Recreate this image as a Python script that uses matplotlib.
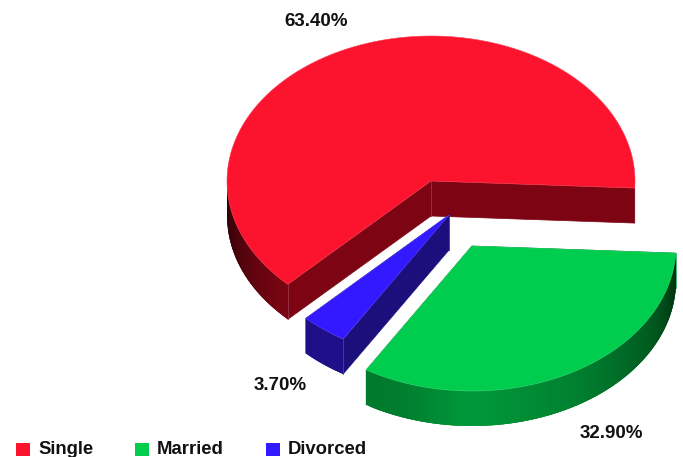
import numpy as np
import matplotlib
matplotlib.use("Agg")
import matplotlib.pyplot as plt

plt.rcParams['font.family'] = ['Liberation Sans', 'DejaVu Sans']

names = ['Single', 'Divorced', 'Married']
shares = [63.4, 3.7, 32.9]
share_labels = ['63.40%', '3.70%', '32.90%']
legend_names = ['Single', 'Married', 'Divorced']

top_colors = {'Single': '#fc132d', 'Married': '#00cc4d', 'Divorced': '#3319ff'}
wall_colors = {'Single': '#7d0513', 'Married': '#00993a', 'Divorced': '#1c0f7c'}

RX, RY = 204, 145
DEPTH = 35
START = -2.8
centers = {'Single': (431, 181), 'Divorced': (449, 215), 'Married': (472, 246)}
label_pos = {'Single': (316, 22), 'Divorced': (280, 386), 'Married': (611, 434)}
legend_x = [16, 135, 266]
legend_y = 449.5


def rim(c, t):
    t = np.radians(t)
    return c[0] + RX * np.cos(t), c[1] - RY * np.sin(t)


def mix(a, b, k):
    a = np.array(matplotlib.colors.to_rgb(a))
    b = np.array(matplotlib.colors.to_rgb(b))
    return a + (b - a) * k


def rim_shade(name, t):
    # dark towards both ends of the front of the pie, brightest near the middle
    if name == 'Single':
        return mix('#1c0005', wall_colors[name], np.interp(t, [180, 186, 225], [0, 0.25, 1]))
    if name == 'Divorced':
        return matplotlib.colors.to_rgb('#1f0f88')
    k = np.interp(t, [238, 250, 270, 300, 330, 350, 358], [0.72, 0.75, 1, 0.78, 0.45, 0.15, 0.05])
    return mix('#002a0c', wall_colors[name], k)


fig = plt.figure(figsize=(6.83, 4.57), dpi=100)
ax = fig.add_axes([0, 0, 1, 1])
ax.set_xlim(0, 683)
ax.set_ylim(457, 0)
ax.axis('off')

a0 = START
for name, share, lab in zip(names, shares, share_labels):
    a1 = a0 + share * 3.6
    c = centers[name]

    # cut faces from the centre out to the rim
    for a in (a0, a1):
        x, y = rim(c, a)
        ax.fill([c[0], x, x, c[0]], [c[1], y, y + DEPTH, c[1] + DEPTH],
                color=wall_colors[name] if name != 'Married' else '#006b28', lw=0.5, zorder=2)
    ax.plot([c[0], c[0]], [c[1], c[1] + DEPTH], color=mix(wall_colors[name], '#ffffff', 0.2),
            lw=0.6, zorder=2.5)

    # curved outer wall, only the part facing the viewer; strips overlap to hide seams
    ts = np.linspace(a0, a1, 120)
    for i in range(len(ts) - 1):
        t0, t1 = ts[i], ts[min(i + 3, len(ts) - 1)]
        tm = (ts[i] + ts[i + 1]) / 2
        if np.sin(np.radians(tm)) > 0:
            continue
        x0, y0 = rim(c, t0)
        x1, y1 = rim(c, t1)
        ax.fill([x0, x1, x1, x0], [y0, y1, y1 + DEPTH, y0 + DEPTH],
                color=rim_shade(name, tm), lw=0, zorder=3)

    # light line where the rim meets the cut face
    x, y = rim(c, a1)
    ax.plot([x, x], [y, y + DEPTH], color=mix(wall_colors[name], '#ffffff', 0.2), lw=0.6, zorder=3.5)

    # top
    tt = np.linspace(a0, a1, 200)
    xs, ys = rim(c, tt)
    ax.fill(np.r_[c[0], xs], np.r_[c[1], ys], facecolor=top_colors[name],
            edgecolor=mix(top_colors[name], '#ffffff', 0.2), lw=0.4, zorder=4)

    ax.text(label_pos[name][0], label_pos[name][1], lab, ha='center', va='center',
            fontsize=13.5, fontweight='bold', color='#111111', zorder=5)
    a0 = a1

for x, name in zip(legend_x, legend_names):
    ax.fill([x, x + 14, x + 14, x], [443, 443, 456, 456], color=top_colors[name], lw=0)
    ax.text(x + 22, legend_y, name, ha='left', va='center', fontsize=13.3,
            fontweight='bold', color='#111111')

plt.savefig('out.png', dpi=100)
